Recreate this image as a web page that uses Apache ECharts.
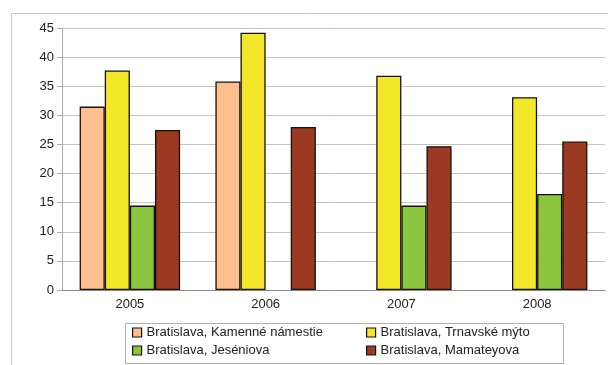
<!DOCTYPE html>
<html>
<head>
<meta charset="utf-8">
<script src="https://cdn.jsdelivr.net/npm/echarts@6/dist/echarts.min.js"></script>
<style>
  html, body { margin: 0; padding: 0; background: #fff; }
</style>
</head>
<body>
<div id="chart" style="width: 608px; height: 365px;"></div>
<script>
// data
var years = ["2005", "2006", "2007", "2008"];
var kamenne = [31.5, 35.8, null, null];
var trnavske = [37.7, 44.2, 36.8, 33.1];
var jeseniova = [14.5, null, 14.5, 16.5];
var mamateyova = [27.5, 28.0, 24.7, 25.5];
var names = [
  "Bratislava, Kamenné námestie",
  "Bratislava, Trnavské mýto",
  "Bratislava, Jeséniova",
  "Bratislava, Mamateyova"
];
var colors = ["#FFBF8E", "#F2E829", "#8CC63F", "#9B3A22"];

var font = "Liberation Sans, Arial, sans-serif";

function bar(i, values) {
  return {
    name: names[i],
    type: "bar",
    data: values,
    barGap: 0,
    barCategoryGap: "26%",
    itemStyle: { color: colors[i], borderColor: "#1a1008", borderWidth: 1.3 },
    animation: false
  };
}

var legendText = { fontFamily: font, fontSize: 13, color: "#222" };
var legendIcon = { borderColor: "#1a1008", borderWidth: 1.2 };

var option = {
  backgroundColor: "#fff",
  grid: { left: 62, right: 3, top: 28, bottom: 75 },
  graphic: [
    {
      type: "rect",
      shape: { x: 11.5, y: 13.5, width: 620, height: 400 },
      style: { fill: "none", stroke: "#c8c8c8", lineWidth: 1 },
      silent: true
    },
    {
      type: "rect",
      shape: { x: 125.5, y: 323.5, width: 438, height: 40 },
      style: { fill: "#fff", stroke: "#b0b0b0", lineWidth: 1 },
      silent: true,
      z: -1
    }
  ],
  legend: [
    {
      data: [names[0], names[2]],
      orient: "vertical",
      left: 132,
      top: 326,
      padding: 0,
      icon: "rect",
      itemWidth: 9,
      itemHeight: 9,
      itemGap: 5,
      itemStyle: legendIcon,
      textStyle: legendText
    },
    {
      data: [names[1], names[3]],
      orient: "vertical",
      left: 366,
      top: 326,
      padding: 0,
      icon: "rect",
      itemWidth: 9,
      itemHeight: 9,
      itemGap: 5,
      itemStyle: legendIcon,
      textStyle: legendText
    }
  ],
  xAxis: {
    type: "category",
    data: years,
    axisLine: { lineStyle: { color: "#888" } },
    axisTick: { show: false },
    axisLabel: { fontFamily: font, fontSize: 13, color: "#222", margin: 8 }
  },
  yAxis: {
    type: "value",
    min: 0,
    max: 45,
    interval: 5,
    axisLine: { show: true, lineStyle: { color: "#aaa" } },
    axisTick: { show: true, length: 5, lineStyle: { color: "#aaa" } },
    axisLabel: { fontFamily: font, fontSize: 13, color: "#222", margin: 8 },
    splitLine: { lineStyle: { color: "#c4c4c4" } }
  },
  series: [
    bar(0, kamenne),
    bar(1, trnavske),
    bar(2, jeseniova),
    bar(3, mamateyova)
  ]
};

var myChart = echarts.init(document.getElementById("chart"));
myChart.setOption(option);
</script>
</body>
</html>
